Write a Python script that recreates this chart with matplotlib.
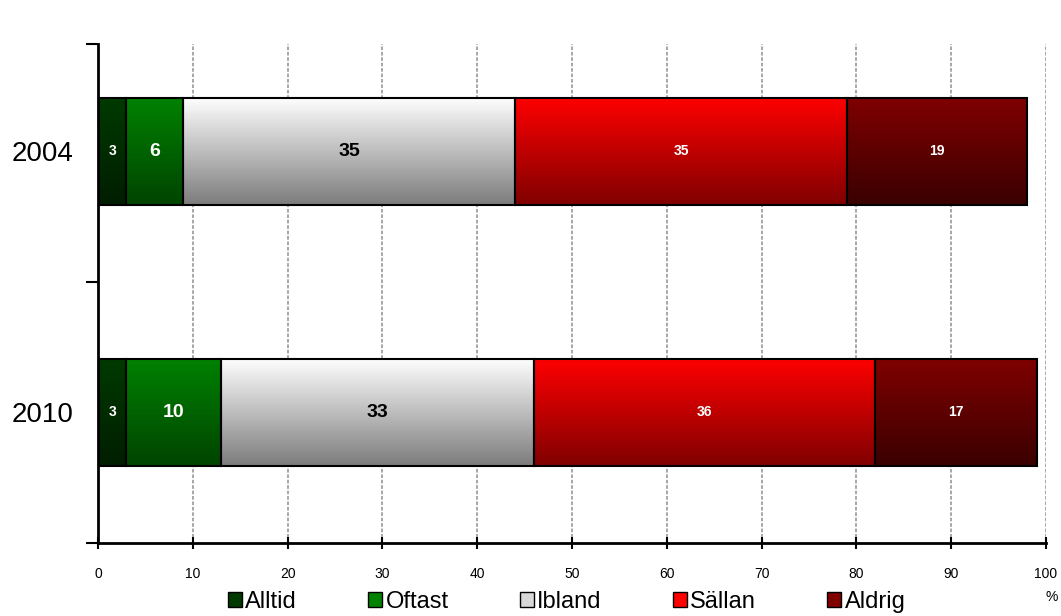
import numpy as np
import matplotlib.pyplot as plt
from matplotlib.colors import LinearSegmentedColormap
from matplotlib.patches import Patch

plt.rcParams['font.family'] = ['Liberation Sans', 'DejaVu Sans']

years = ['2010', '2004']
categories = ['Alltid', 'Oftast', 'Ibland', 'Sällan', 'Aldrig']
values = {
    'Alltid': [3, 3],
    'Oftast': [10, 6],
    'Ibland': [33, 35],
    'Sällan': [36, 35],
    'Aldrig': [17, 19],
}

# top colour, bottom colour of each segment's gradient
shades = {
    'Alltid': ('#003a00', '#001e00'),
    'Oftast': ('#008200', '#004400'),
    'Ibland': ('#ffffff', '#7c7c7c'),
    'Sällan': ('#ff0000', '#800000'),
    'Aldrig': ('#800000', '#3a0000'),
}
label_style = {
    'Alltid': ('white', 10),
    'Oftast': ('white', 14),
    'Ibland': ('black', 14),
    'Sällan': ('white', 10),
    'Aldrig': ('white', 10),
}

fig = plt.figure(figsize=(10.61, 6.16), dpi=100)
ax = fig.add_axes([0.0924, 0.1185, 0.8935, 0.81])

y = np.arange(len(years))
height = 0.41
left = np.zeros(len(years))
grad = np.linspace(0, 1, 256).reshape(-1, 1)

for cat in categories:
    vals = np.array(values[cat], dtype=float)
    bars = ax.barh(y, vals, height, left=left, facecolor='none',
                   edgecolor='black', linewidth=1.5, zorder=3)
    cmap = LinearSegmentedColormap.from_list(cat, shades[cat])
    for bar, v in zip(bars, vals):
        x0, y0 = bar.get_x(), bar.get_y()
        im = ax.imshow(grad, cmap=cmap, aspect='auto', origin='upper',
                       extent=[x0, x0 + bar.get_width(), y0, y0 + bar.get_height()],
                       zorder=2)
        im.set_clip_path(bar)
        col, fs = label_style[cat]
        ax.text(x0 + bar.get_width() / 2, y0 + bar.get_height() / 2, f'{v:g}',
                ha='center', va='center', color=col, fontsize=fs,
                fontweight='bold', zorder=4)
    left += vals

ax.set_xlim(0, 100)
ax.set_ylim(-0.5, 1.41)
ax.set_xticks(np.arange(0, 101, 10))
ax.tick_params(axis='x', labelsize=10, direction='inout', length=8, width=1.5, pad=13)
ax.set_yticks(y)
ax.set_yticklabels(years, fontsize=20)
ax.tick_params(axis='y', length=0, pad=18)
ax.set_yticks([-0.5, 0.5, 1.41], minor=True)
ax.tick_params(axis='y', which='minor', length=9, width=1.5, direction='out')

for s in ['top', 'right']:
    ax.spines[s].set_visible(False)
for s in ['left', 'bottom']:
    ax.spines[s].set_linewidth(2)

ax.grid(axis='x', color='#a0a0a0', linestyle=(0, (2, 1)), linewidth=1.3, zorder=0)
ax.set_axisbelow(True)

fig.text(0.997, 0.025, '%', fontsize=10, ha='right')

handles = [Patch(facecolor=shades[c][0] if c != 'Ibland' else '#d8d8d8',
                 edgecolor='black', label=c) for c in categories]
fig.legend(handles=handles, loc='lower center', bbox_to_anchor=(0.534, -0.03),
           ncol=5, frameon=False, fontsize=17, handlelength=0.6,
           handleheight=0.6, handletextpad=0.15, columnspacing=3.0)

fig.savefig('out.png', dpi=100)
